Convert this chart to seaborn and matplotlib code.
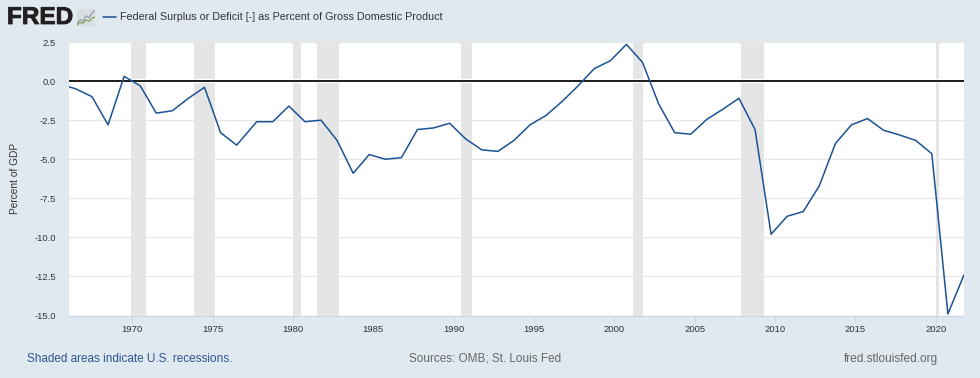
import matplotlib
matplotlib.use("Agg")
import matplotlib.pyplot as plt
import matplotlib.patheffects as pe
import numpy as np
import pandas as pd
import seaborn as sns

fiscal_years = [1965, 1966, 1967, 1968, 1969, 1970, 1971, 1972, 1973, 1974, 1975, 1976,
                1977, 1978, 1979, 1980, 1981, 1982, 1983, 1984, 1985, 1986, 1987, 1988,
                1989, 1990, 1991, 1992, 1993, 1994, 1995, 1996, 1997, 1998, 1999, 2000,
                2001, 2002, 2003, 2004, 2005, 2006, 2007, 2008, 2009, 2010, 2011, 2012,
                2013, 2014, 2015, 2016, 2017, 2018, 2019, 2020, 2021]
surplus_pct = [-0.2, -0.5, -1.0, -2.8, 0.3, -0.3, -2.05, -1.9, -1.1, -0.4, -3.3, -4.1,
               -2.6, -2.6, -1.6, -2.6, -2.5, -3.8, -5.9, -4.7, -5.0, -4.9, -3.1, -3.0,
               -2.7, -3.7, -4.4, -4.5, -3.8, -2.8, -2.2, -1.3, -0.3, 0.8, 1.3, 2.35,
               1.2, -1.45, -3.3, -3.4, -2.45, -1.8, -1.1, -3.1, -9.8, -8.65, -8.35, -6.7,
               -4.0, -2.8, -2.4, -3.15, -3.45, -3.8, -4.65, -14.9, -12.4]
# Fiscal years ended in June until 1976 and in September afterwards.
period_end_offset = [0.5 if y < 1977 else 0.75 for y in fiscal_years]
recession_start = [1969.94, 1973.86, 1979.98, 1981.49, 1990.47, 2001.15, 2007.9, 2020.0]
recession_end = [1970.83, 1975.17, 1980.5, 1982.84, 1991.16, 2001.8, 2009.33, 2020.19]
x_ticks = [1970, 1975, 1980, 1985, 1990, 1995, 2000, 2005, 2010, 2015, 2020]
y_ticks = [2.5, 0.0, -2.5, -5.0, -7.5, -10.0, -12.5, -15.0]
icon_steps = [0, 1, 2, 3, 4, 5, 6]
icon_top = [1.0, 2.6, 2.0, 4.2, 3.4, 5.4, 6.4]
icon_bottom = [0.4, 1.5, 1.1, 2.5, 2.0, 3.2, 3.7]

BG = "#e1e9f0"
LINE = "#1b5393"
W, H = 980, 378

sns.set_theme(style="white", rc={"font.family": ["Liberation Sans", "DejaVu Sans"]})
fig = plt.figure(figsize=(W / 100, H / 100), dpi=100, facecolor=BG)
L, R, T, B = 69, 963.5, 42, 315.5
ax = fig.add_axes([L / W, 1 - B / H, (R - L) / W, (B - T) / H], facecolor="white")

df = pd.DataFrame({"date": np.array(fiscal_years) + np.array(period_end_offset),
                   "value": surplus_pct})
ax.yaxis.grid(True, color="#e6e6e6", lw=0.9, zorder=0)
ax.set_axisbelow(True)
for s, e in zip(recession_start, recession_end):
    ax.axvspan(s, e, color="#e5e5e5", lw=0, zorder=1)
ax.axhline(0, color="white", lw=3.2, zorder=2)
ax.axhline(0, color="black", lw=1.25, zorder=3)
sns.lineplot(data=df, x="date", y="value", color=LINE, lw=1.1, ax=ax, zorder=4, errorbar=None)

ax.set_xlim(1966.07, 2021.72)
ax.set_ylim(-15, 2.47)
ax.set_xticks(x_ticks)
ax.set_yticks(y_ticks)
ax.set_yticklabels([f"{v:.1f}" for v in y_ticks])
ax.set_xlabel("")
ax.set_ylabel("")
ax.tick_params(axis="x", length=5, width=0.8, color="#ccd6eb", labelsize=6.8, labelcolor="#333333", pad=1.8, bottom=True)
ax.tick_params(axis="y", length=0, labelsize=6.8, labelcolor="#333333", pad=9.4)
for k in ("top", "left", "right"):
    ax.spines[k].set_visible(False)
ax.spines["bottom"].set_color("#ccd6eb")
ax.spines["bottom"].set_linewidth(0.9)

fig.text(15 / W, 1 - 178.5 / H, "Percent of GDP", rotation=90, ha="center", va="center",
         fontsize=7.3, color="#333333")
fig.text(7 / W, 1 - 17.5 / H, "FRED", fontsize=17.5, fontweight="bold", color="#231f20",
         ha="left", va="center",
         path_effects=[pe.withStroke(linewidth=0.6, foreground="#231f20")])
fig.text(120 / W, 1 - 16.5 / H, "Federal Surplus or Deficit [-] as Percent of Gross Domestic Product",
         fontsize=7.75, color="#333333", ha="left", va="center")
fig.add_artist(plt.Line2D([103 / W, 115.5 / W], [1 - 16.5 / H] * 2, color=LINE, lw=1.1))
FOOT = 1 - 361.7 / H
fig.text(27 / W, FOOT, "Shaded areas indicate U.S. recessions.", fontsize=8.45, color="#2b5590",
         ha="left", va="baseline")
fig.text(409 / W, FOOT, "Sources: OMB; St. Louis Fed", fontsize=8.45, color="#666666",
         ha="left", va="baseline")
fig.text(844 / W, FOOT, "fred.stlouisfed.org", fontsize=8.55, color="#666666",
         ha="left", va="baseline")

icon = fig.add_axes([77 / W, 1 - 26 / H, 18 / W, 17 / H], facecolor="#d8dde0")
sns.lineplot(x=icon_steps, y=icon_top, color="#8f9aa3", lw=0.8, ax=icon)
sns.lineplot(x=icon_steps, y=icon_bottom, color="#7d9a5a", lw=0.8, ax=icon)
icon.set_xlim(0, 6)
icon.set_ylim(0, 7)
icon.set_xticks([])
icon.set_yticks([])
icon.set_xlabel("")
icon.set_ylabel("")
for sp in icon.spines.values():
    sp.set_visible(False)

fig.savefig("out.png", dpi=100, facecolor=BG)
